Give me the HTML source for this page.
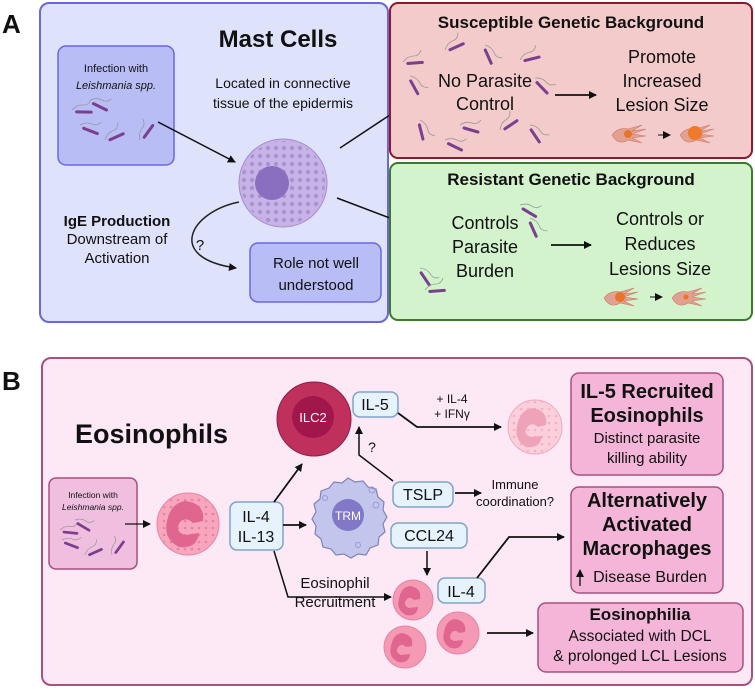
<!DOCTYPE html>
<html><head><meta charset="utf-8"><style>
html,body{margin:0;padding:0;background:#fff}
svg{display:block}
text{font-family:"Liberation Sans",sans-serif;fill:#111}
.b{font-weight:bold}
</style></head><body>
<svg width="755" height="689" viewBox="0 0 755 689" xmlns="http://www.w3.org/2000/svg">
<defs>
<marker id="ah" markerWidth="8" markerHeight="8" refX="7" refY="4" orient="auto" markerUnits="userSpaceOnUse"><path d="M0,0 L8,4 L0,8 Z" fill="#111"/></marker>
<pattern id="dots" width="7" height="7" patternUnits="userSpaceOnUse"><circle cx="3" cy="3" r="1.3" fill="#d96a8c" opacity="0.6"/></pattern>
<pattern id="mdots" width="8" height="8" patternUnits="userSpaceOnUse"><circle cx="4" cy="4" r="2.2" fill="#9a84c6"/></pattern>
<g id="par"><path d="M0,0 q6,-4 12,-2 q5,2 9,-3" stroke="#999" stroke-width="0.8" fill="none"/><path d="M4,3 L18,7" stroke="#7a3f8e" stroke-width="3" stroke-linecap="round"/></g>
<g id="hand"><path d="M0,0 q6,-8 16,-6 l14,-4 l-10,6 l14,-2 l-14,5 l14,2 l-14,2 l10,5 l-14,-3 q-10,6 -16,-5z" fill="#e2a090" stroke="#c97a6a" stroke-width="0.6"/></g>
</defs>

<!-- Panel A -->
<text x="2" y="33" class="b" font-size="26">A</text>
<rect x="40" y="3" width="348" height="319" rx="9" fill="#dfe2fb" stroke="#6a67e0" stroke-width="2"/>
<text x="278" y="47" class="b" font-size="24" text-anchor="middle">Mast Cells</text>
<rect x="58" y="46" width="116" height="119" rx="8" fill="#b8bdf5" stroke="#6a67e0" stroke-width="1.5"/>
<text x="116" y="72" font-size="11" text-anchor="middle">Infection with</text>
<text x="116" y="89" font-size="11" font-style="italic" text-anchor="middle">Leishmania spp.</text>
<g transform="translate(72,110) rotate(-15)"><use href="#par"/></g>
<g transform="translate(90,100) rotate(10)"><use href="#par"/></g>
<g transform="translate(80,125) rotate(5)"><use href="#par"/></g>
<g transform="translate(105,140) rotate(-40)"><use href="#par"/></g>
<g transform="translate(140,140) rotate(-70)"><use href="#par"/></g>
<text x="283" y="88" font-size="14" text-anchor="middle">Located in connective</text>
<text x="283" y="108" font-size="14" text-anchor="middle">tissue of the epidermis</text>
<line x1="158" y1="122" x2="235" y2="162" stroke="#111" stroke-width="1.5" marker-end="url(#ah)"/>
<circle cx="283" cy="183" r="44" fill="#c7b3e6" stroke="#a58cd0"/>
<circle cx="283" cy="183" r="42" fill="url(#mdots)" opacity="0.7"/>
<circle cx="272" cy="183" r="17" fill="#8a6fc0"/>
<line x1="340" y1="148" x2="408" y2="103" stroke="#111" stroke-width="1.5" marker-end="url(#ah)"/>
<line x1="337" y1="198" x2="411" y2="226" stroke="#111" stroke-width="1.5" marker-end="url(#ah)"/>
<text x="117" y="226" class="b" font-size="15" text-anchor="middle">IgE Production</text>
<text x="117" y="244" font-size="15" text-anchor="middle">Downstream of</text>
<text x="117" y="263" font-size="15" text-anchor="middle">Activation</text>
<path d="M239,202 C190,212 165,258 236,268" stroke="#222" stroke-width="1.5" fill="none" marker-end="url(#ah)"/>
<text x="200" y="250" font-size="15" text-anchor="middle">?</text>
<rect x="250" y="243" width="131" height="59" rx="8" fill="#b8bdf5" stroke="#6a67e0" stroke-width="1.5"/>
<text x="316" y="268" font-size="15" text-anchor="middle">Role not well</text>
<text x="316" y="290" font-size="15" text-anchor="middle">understood</text>

<!-- Susceptible -->
<rect x="390" y="3" width="362" height="155" rx="8" fill="#f4cbcb" stroke="#8b1a2a" stroke-width="2"/>
<text x="571" y="28" class="b" font-size="17" text-anchor="middle">Susceptible Genetic Background</text>
<g transform="translate(403,62) rotate(-20)"><use href="#par"/></g>
<g transform="translate(445,50) rotate(-40)"><use href="#par"/></g>
<g transform="translate(485,45) rotate(50)"><use href="#par"/></g>
<g transform="translate(520,60) rotate(-30)"><use href="#par"/></g>
<g transform="translate(410,76) rotate(45)"><use href="#par"/></g>
<g transform="translate(535,78) rotate(30)"><use href="#par"/></g>
<g transform="translate(420,120) rotate(60)"><use href="#par"/></g>
<g transform="translate(460,125) rotate(0)"><use href="#par"/></g>
<g transform="translate(500,130) rotate(-50)"><use href="#par"/></g>
<g transform="translate(530,125) rotate(40)"><use href="#par"/></g>
<g transform="translate(445,140) rotate(10)"><use href="#par"/></g>
<text x="485" y="87" font-size="18" text-anchor="middle">No Parasite</text>
<text x="485" y="110" font-size="18" text-anchor="middle">Control</text>
<line x1="555" y1="95" x2="596" y2="95" stroke="#111" stroke-width="1.8" marker-end="url(#ah)"/>
<text x="662" y="63" font-size="18" text-anchor="middle">Promote</text>
<text x="662" y="87" font-size="18" text-anchor="middle">Increased</text>
<text x="662" y="111" font-size="18" text-anchor="middle">Lesion Size</text>
<g transform="translate(612,135)"><use href="#hand"/></g>
<circle cx="628" cy="134" r="4" fill="#e8742c"/>
<line x1="658" y1="135" x2="670" y2="135" stroke="#111" marker-end="url(#ah)"/>
<g transform="translate(680,135)"><use href="#hand"/></g>
<circle cx="695" cy="133" r="7" fill="#ee7a2a"/>

<!-- Resistant -->
<rect x="390" y="163" width="362" height="157" rx="8" fill="#d3f3cd" stroke="#3d7a2d" stroke-width="2"/>
<text x="571" y="185" class="b" font-size="17" text-anchor="middle">Resistant Genetic Background</text>
<g transform="translate(520,205) rotate(15)"><use href="#par"/></g>
<g transform="translate(530,218) rotate(50)"><use href="#par"/></g>
<g transform="translate(420,268) rotate(40)"><use href="#par"/></g>
<g transform="translate(425,290) rotate(-20)"><use href="#par"/></g>
<text x="485" y="229" font-size="18" text-anchor="middle">Controls</text>
<text x="485" y="253" font-size="18" text-anchor="middle">Parasite</text>
<text x="485" y="277" font-size="18" text-anchor="middle">Burden</text>
<line x1="551" y1="245" x2="591" y2="245" stroke="#111" stroke-width="1.8" marker-end="url(#ah)"/>
<text x="660" y="225" font-size="18" text-anchor="middle">Controls or</text>
<text x="660" y="250" font-size="18" text-anchor="middle">Reduces</text>
<text x="660" y="275" font-size="18" text-anchor="middle">Lesions Size</text>
<g transform="translate(604,298)"><use href="#hand"/></g>
<circle cx="620" cy="297" r="5" fill="#e8742c"/>
<line x1="650" y1="297" x2="662" y2="297" stroke="#111" marker-end="url(#ah)"/>
<g transform="translate(672,298)"><use href="#hand"/></g>
<circle cx="686" cy="297" r="2.5" fill="#e8742c"/>

<!-- Panel B -->
<text x="2" y="390" class="b" font-size="26">B</text>
<rect x="42" y="358" width="710" height="327" rx="9" fill="#fde8f6" stroke="#a8507e" stroke-width="2"/>
<text x="75" y="443" class="b" font-size="27">Eosinophils</text>

<rect x="49" y="478" width="88" height="91" rx="7" fill="#f0bfe0" stroke="#a8507e" stroke-width="1.5"/>
<text x="93" y="498" font-size="8.5" text-anchor="middle">Infection with</text>
<text x="93" y="510" font-size="8.5" font-style="italic" text-anchor="middle">Leishmania spp.</text>
<g transform="translate(60,530) rotate(-10) scale(0.9)"><use href="#par"/></g>
<g transform="translate(75,520) rotate(15) scale(0.9)"><use href="#par"/></g>
<g transform="translate(62,540) rotate(5) scale(0.9)"><use href="#par"/></g>
<g transform="translate(85,555) rotate(-40) scale(0.9)"><use href="#par"/></g>
<g transform="translate(112,555) rotate(-70) scale(0.9)"><use href="#par"/></g>
<line x1="125" y1="524" x2="150" y2="524" stroke="#111" stroke-width="1.3" marker-end="url(#ah)"/>

<circle cx="188" cy="524" r="31" fill="#f7a6bd" stroke="#e483a2"/>
<circle cx="188" cy="524" r="30" fill="url(#dots)"/>
<path d="M185,501 q20,2 18,20 l-10,2 q-6,-6 -12,-2 q-8,10 4,14 l14,-2 q-2,16 -20,14 q-16,-8 -12,-26 q4,-18 18,-20z" fill="#e0668f"/>

<rect x="230" y="502" width="53" height="48" rx="7" fill="#e6f2fc" stroke="#7ea4cc" stroke-width="1.5"/>
<text x="256" y="522" font-size="16" text-anchor="middle">IL-4</text>
<text x="256" y="542" font-size="16" text-anchor="middle">IL-13</text>

<line x1="274" y1="502" x2="302" y2="464" stroke="#111" stroke-width="1.8" marker-end="url(#ah)"/>
<line x1="283" y1="525" x2="306" y2="525" stroke="#111" stroke-width="1.8" marker-end="url(#ah)"/>
<polyline points="274,551 288,597 391,597" fill="none" stroke="#111" stroke-width="1.5" marker-end="url(#ah)"/>
<text x="335" y="588" font-size="15" text-anchor="middle">Eosinophil</text>
<text x="335" y="607" font-size="15" text-anchor="middle">Recruitment</text>

<circle cx="314" cy="419" r="37" fill="#c0305c" stroke="#8e1f44"/>
<circle cx="313" cy="417" r="21" fill="#a1164b"/>
<text x="313" y="422" font-size="13" fill="#fff" style="fill:#fff" text-anchor="middle">ILC2</text>

<rect x="353" y="392" width="45" height="25" rx="7" fill="#e6f2fc" stroke="#7ea4cc" stroke-width="1.5"/>
<text x="375" y="410" font-size="16" text-anchor="middle">IL-5</text>
<text x="452" y="403" font-size="12" text-anchor="middle">+ IL-4</text>
<text x="452" y="418" font-size="12" text-anchor="middle">+ IFNγ</text>
<polyline points="398,413 417,427 501,427" fill="none" stroke="#111" stroke-width="1.8" marker-end="url(#ah)"/>
<circle cx="535" cy="427" r="27" fill="#fbd0dc" stroke="#f0a8bc"/>
<circle cx="535" cy="427" r="26" fill="url(#dots)" opacity="0.5"/>
<path d="M532,408 q16,2 14,17 l-8,2 q-5,-5 -10,-1 q-6,8 3,11 l11,-1 q-2,13 -16,11 q-12,-7 -9,-21 q3,-16 15,-18z" fill="#eea3b8"/>

<rect x="571" y="373" width="152" height="102" rx="8" fill="#f4b5d8" stroke="#a8507e" stroke-width="1.5"/>
<text x="647" y="398" class="b" font-size="20" text-anchor="middle">IL-5 Recruited</text>
<text x="647" y="422" class="b" font-size="20" text-anchor="middle">Eosinophils</text>
<text x="647" y="443" font-size="15" text-anchor="middle">Distinct parasite</text>
<text x="647" y="463" font-size="15" text-anchor="middle">killing ability</text>

<polyline points="393,481 359,455 359,427" fill="none" stroke="#111" stroke-width="1.5" marker-end="url(#ah)"/>
<text x="372" y="452" font-size="14" text-anchor="middle">?</text>

<path d="M348,478 l7,4 l8,-1 l5,6 l8,2 l2,8 l6,5 l-1,8 l4,7 l-4,7 l2,8 l-6,5 l-1,8 l-8,3 l-4,7 l-8,-1 l-7,4 l-7,-4 l-8,1 l-5,-6 l-8,-2 l-2,-8 l-6,-5 l1,-8 l-4,-7 l4,-7 l-2,-8 l6,-5 l1,-8 l8,-3 l5,-6 l8,1z" fill="#c3c6ec" stroke="#7f82b6" stroke-width="1.2"/>
<circle cx="348" cy="515" r="16" fill="#8178c8"/>
<text x="348" y="520" font-size="12" style="fill:#fff" text-anchor="middle">TRM</text>
<circle cx="372" cy="490" r="3" fill="none" stroke="#9a9ad8"/>
<circle cx="376" cy="505" r="3" fill="none" stroke="#9a9ad8"/>
<circle cx="325" cy="498" r="2.5" fill="none" stroke="#9a9ad8"/>
<circle cx="358" cy="545" r="2.5" fill="none" stroke="#9a9ad8"/>

<rect x="393" y="482" width="60" height="25" rx="7" fill="#e6f2fc" stroke="#7ea4cc" stroke-width="1.5"/>
<text x="423" y="500" font-size="16" text-anchor="middle">TSLP</text>
<line x1="455" y1="493" x2="481" y2="493" stroke="#111" stroke-width="1.8" marker-end="url(#ah)"/>
<text x="515" y="489" font-size="13" text-anchor="middle">Immune</text>
<text x="515" y="506" font-size="13" text-anchor="middle">coordination?</text>

<rect x="391" y="523" width="76" height="25" rx="7" fill="#e6f2fc" stroke="#7ea4cc" stroke-width="1.5"/>
<text x="429" y="541" font-size="16" text-anchor="middle">CCL24</text>
<line x1="427" y1="551" x2="427" y2="575" stroke="#111" stroke-width="1.5" marker-end="url(#ah)"/>

<g>
<circle cx="413" cy="600" r="20" fill="#f59ab4" stroke="#e483a2"/>
<circle cx="405" cy="647" r="21" fill="#f59ab4" stroke="#e483a2"/>
<circle cx="458" cy="633" r="21" fill="#f59ab4" stroke="#e483a2"/>
<path d="M410,586 q12,2 10,13 l-6,1 q-4,-4 -7,-1 q-5,6 2,9 l9,-1 q-1,10 -12,8 q-10,-5 -7,-16 q2,-12 11,-13z" fill="#e0668f"/>
<path d="M402,633 q12,2 10,13 l-6,1 q-4,-4 -7,-1 q-5,6 2,9 l9,-1 q-1,10 -12,8 q-10,-5 -7,-16 q2,-12 11,-13z" fill="#e0668f"/>
<path d="M455,619 q12,2 10,13 l-6,1 q-4,-4 -7,-1 q-5,6 2,9 l9,-1 q-1,10 -12,8 q-10,-5 -7,-16 q2,-12 11,-13z" fill="#e0668f"/>
</g>

<rect x="438" y="578" width="47" height="25" rx="7" fill="#e6f2fc" stroke="#7ea4cc" stroke-width="1.5"/>
<text x="461" y="597" font-size="16" text-anchor="middle">IL-4</text>
<polyline points="477,578 509,537 564,537" fill="none" stroke="#111" stroke-width="1.8" marker-end="url(#ah)"/>

<rect x="571" y="487" width="152" height="106" rx="8" fill="#f4b5d8" stroke="#a8507e" stroke-width="1.5"/>
<text x="647" y="507" class="b" font-size="20" text-anchor="middle">Alternatively</text>
<text x="647" y="531" class="b" font-size="20" text-anchor="middle">Activated</text>
<text x="647" y="555" class="b" font-size="20" text-anchor="middle">Macrophages</text>
<text x="650" y="582" font-size="16" text-anchor="middle">Disease Burden</text>
<line x1="580" y1="586" x2="580" y2="570" stroke="#111" stroke-width="1.3" marker-end="url(#ah)"/>

<line x1="487" y1="633" x2="533" y2="633" stroke="#111" stroke-width="1.8" marker-end="url(#ah)"/>
<rect x="538" y="603" width="205" height="69" rx="8" fill="#f4b5d8" stroke="#a8507e" stroke-width="1.5"/>
<text x="640" y="620" class="b" font-size="17" text-anchor="middle">Eosinophilia</text>
<text x="640" y="641" font-size="15.5" text-anchor="middle">Associated with DCL</text>
<text x="640" y="661" font-size="15.5" text-anchor="middle">&amp; prolonged LCL Lesions</text>
</svg>
</body></html>
